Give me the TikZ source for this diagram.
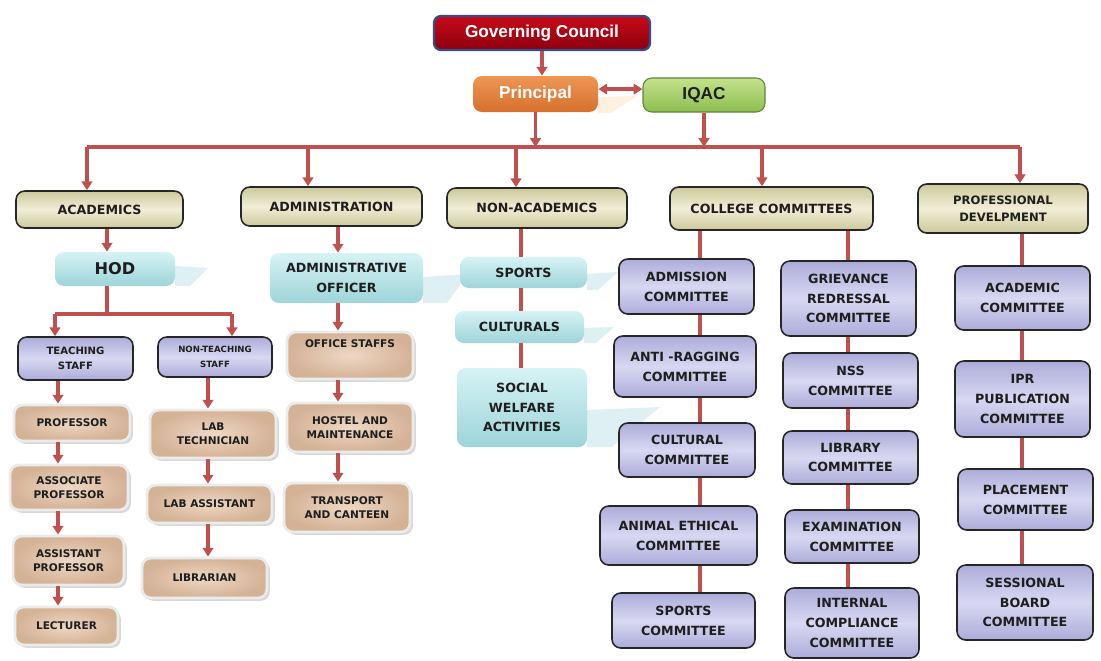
\documentclass[tikz,border=0pt]{standalone}
\usepackage{fontspec}
\setmainfont{DejaVu Sans}
\newfontfamily\libsans{Liberation Sans}
\usetikzlibrary{arrows.meta,shadows,calc}
\definecolor{ln}{RGB}{192,80,77}
\definecolor{khA}{RGB}{240,238,214}
\definecolor{khB}{RGB}{205,201,156}
\definecolor{lvA}{RGB}{216,216,242}
\definecolor{lvB}{RGB}{172,172,218}
\definecolor{tnA}{RGB}{238,216,196}
\definecolor{tnB}{RGB}{212,178,150}
\definecolor{cyA}{RGB}{214,243,245}
\definecolor{cyB}{RGB}{158,212,216}
\definecolor{refl}{RGB}{222,240,244}
\definecolor{gcA}{RGB}{200,10,25}
\definecolor{gcB}{RGB}{140,0,15}
\definecolor{gcE}{RGB}{55,75,135}
\definecolor{prA}{RGB}{238,150,85}
\definecolor{prB}{RGB}{214,112,45}
\definecolor{iqA}{RGB}{196,226,140}
\definecolor{iqB}{RGB}{140,190,80}
\definecolor{txt}{RGB}{30,30,30}
\begin{document}
\begin{tikzpicture}[x=0.02cm,y=-0.02cm,
  wh/.style 2 args={minimum width=#1*0.02cm, minimum height=#2*0.02cm},
  base/.style={rounded corners=5pt, align=center, inner sep=1pt, text=txt,
    font=\bfseries\fontsize{7.2}{11.3}\selectfont},
  khaki/.style={base, draw=black!85, line width=0.9pt, top color=khB, bottom color=khB, middle color=khA},
  lav/.style={base, draw=black!85, line width=0.9pt, top color=lvB, bottom color=lvB, middle color=lvA},
  tan/.style={base, draw=white!92!black, line width=1.6pt, inner color=tnA, outer color=tnB,
    drop shadow={shadow xshift=1.6pt, shadow yshift=-1.6pt, fill=black!30, opacity=0.5},
    font=\bfseries\fontsize{6}{8.1}\selectfont},
  cyanbox/.style={base, draw=none, top color=cyA, bottom color=cyB},
  small/.style={font=\bfseries\fontsize{5.75}{8.5}\selectfont},
  tiny/.style={font=\bfseries\fontsize{4.9}{8.5}\selectfont},
  lnk/.style={draw=ln, line width=1.9pt},
  tip/.tip={Triangle[length=5pt,width=6pt]},
  arr/.style={lnk, -tip},
  reflect/.style={fill=refl, draw=none}]
\useasboundingbox (0,0) rectangle (1101,660);

% reflections
\fill[orange!12] (598,97) -- (637,96) -- (611,113) -- (598,113) -- cycle;
\fill[reflect] (175,266) -- (208,268) -- (190,286) -- (175,286) -- cycle;
\fill[reflect] (423,277) -- (468,274) -- (447,303) -- (423,303) -- cycle;
\fill[reflect] (587,274) -- (618,272) -- (598,290) -- (587,290) -- cycle;
\fill[reflect] (584,328) -- (614,327) -- (596,343) -- (584,343) -- cycle;
\fill[reflect] (587,410) -- (660,407) -- (612,447) -- (587,447) -- cycle;

% top
\node[base, wh={216}{34}, rounded corners=4pt, draw=gcE, line width=1.3pt, top color=gcA, bottom color=gcB,
  text=white, font=\libsans\bfseries\fontsize{9.8}{12}\selectfont] (gc) at (542,33) {Governing Council};
\node[base, wh={125}{36}, draw=none, top color=prA, bottom color=prB, text=white,
  font=\libsans\bfseries\fontsize{9.8}{12}\selectfont] (pr) at (535.5,94) {Principal};
\node[base, wh={122}{34}, draw=iqB!70!black, line width=0.6pt, top color=iqA, bottom color=iqB, text=txt,
  font=\libsans\bfseries\fontsize{9.8}{12}\selectfont] (iq) at (704,95) {IQAC};

% level 2
\node[khaki, wh={167}{37}] (ac) at (99.5,209.5) {ACADEMICS};
\node[khaki, wh={181}{39}] (ad) at (331.5,206.5) {ADMINISTRATION};
\node[khaki, wh={180}{40}] (na) at (537,208) {NON-ACADEMICS};
\node[khaki, wh={203}{43}] (cc) at (771.5,208.5) {COLLEGE COMMITTEES};
\node[khaki, wh={170}{49}, font=\bfseries\fontsize{6.6}{10}\selectfont] (pd) at (1003,208.5) {PROFESSIONAL\\DEVELPMENT};

% academics
\node[cyanbox, wh={120}{34}, font=\bfseries\fontsize{9.2}{11}\selectfont] (hod) at (115,269) {HOD};
\node[lav, wh={115}{43}, small] (ts) at (75.5,358.5) {TEACHING\\STAFF};
\node[lav, wh={114}{40}, tiny] (nts) at (215,357) {NON-TEACHING\\STAFF};
\node[tan, wh={116}{36}] (prof) at (72,423) {PROFESSOR};
\node[tan, wh={118}{45}] (asso) at (69,487.5) {ASSOCIATE\\PROFESSOR};
\node[tan, wh={111}{49}] (asst) at (68.5,560.5) {ASSISTANT\\PROFESSOR};
\node[tan, wh={103}{38}] (lect) at (66.5,626) {LECTURER};
\node[tan, wh={126}{48}] (labt) at (213,434) {LAB\\TECHNICIAN};
\node[tan, wh={125}{38}] (laba) at (209.5,504) {LAB ASSISTANT};
\node[tan, wh={125}{40}] (lib) at (204.5,578) {LIBRARIAN};

% administration
\node[cyanbox, wh={153}{50}] (ao) at (346.5,278) {ADMINISTRATIVE\\OFFICER};
\node[tan, wh={126}{47}] (os) at (350,355.5) {OFFICE STAFFS\\[6pt]};
\node[tan, wh={126}{49}] (hm) at (350,427.5) {HOSTEL AND\\MAINTENANCE};
\node[tan, wh={126}{49}] (tc) at (347,507.5) {TRANSPORT\\AND CANTEEN};

% non-academics
\node[cyanbox, wh={127}{31}] (sp) at (523.5,272.5) {SPORTS};
\node[cyanbox, wh={129}{32}] (cu) at (519.5,327) {CULTURALS};
\node[cyanbox, wh={130}{79}] (sw) at (522,407.5) {SOCIAL\\WELFARE\\ACTIVITIES};

% college committees
\node[lav, wh={135}{55}] (adm) at (686.5,286.5) {ADMISSION\\COMMITTEE};
\node[lav, wh={142}{61}] (anti) at (685,366.5) {ANTI -RAGGING\\COMMITTEE};
\node[lav, wh={136}{54}] (cul) at (687,450) {CULTURAL\\COMMITTEE};
\node[lav, wh={157}{59}] (ani) at (678.5,535.5) {ANIMAL ETHICAL\\COMMITTEE};
\node[lav, wh={143}{55}] (spc) at (683.5,620.5) {SPORTS\\COMMITTEE};
\node[lav, wh={135}{75}] (gr) at (848.5,298.5) {GRIEVANCE\\REDRESSAL\\COMMITTEE};
\node[lav, wh={135}{55}] (nss) at (850.5,380.5) {NSS\\COMMITTEE};
\node[lav, wh={135}{53}] (lbc) at (850.5,457.5) {LIBRARY\\COMMITTEE};
\node[lav, wh={134}{53}] (ex) at (852,536.5) {EXAMINATION\\COMMITTEE};
\node[lav, wh={134}{70}] (ic) at (852,623) {INTERNAL\\COMPLIANCE\\COMMITTEE};

% professional
\node[lav, wh={135}{64}] (acc) at (1022.5,298) {ACADEMIC\\COMMITTEE};
\node[lav, wh={135}{76}] (ipr) at (1022.5,399) {IPR\\PUBLICATION\\COMMITTEE};
\node[lav, wh={135}{61}] (plc) at (1025.5,499.5) {PLACEMENT\\COMMITTEE};
\node[lav, wh={136}{75}] (ses) at (1025,602.5) {SESSIONAL\\BOARD\\COMMITTEE};

% column coordinates
\coordinate (bL) at (87,147);
\coordinate (bR) at (1020,147);
\coordinate (b2) at (308,147);
\coordinate (b3) at (516,147);
\coordinate (b4) at (762,147);
\coordinate (xH) at (107,0);
\coordinate (xT) at (55,314);
\coordinate (xN) at (232,314);
\coordinate (xP) at (58,0);
\coordinate (xL) at (208,0);
\coordinate (xA) at (338,0);
\coordinate (xS) at (521,0);
\coordinate (xC1) at (700,0);
\coordinate (xC2) at (848,0);
\coordinate (xD) at (1022,0);
\coordinate (pq) at ([yshift=2.8pt]pr.east);

% top connectors
\draw[arr] (gc.south) -- (gc.south |- pr.north);
\draw[lnk, tip-tip] (pq) -- (pq -| iq.west);
\draw[lnk] (bL) -- (bR);
\draw[arr] (pr.south) -- (pr.south |- bL);
\draw[arr] (iq.south) -- (iq.south |- bL);
\draw[arr] (bL) -- (bL |- ac.north);
\draw[arr] (b2) -- (b2 |- ad.north);
\draw[arr] (b3) -- (b3 |- na.north);
\draw[arr] (b4) -- (b4 |- cc.north);
\draw[arr] (bR) -- (bR |- pd.north);

% academics connectors
\draw[arr] (ac.south -| xH) -- (hod.north -| xH);
\draw[lnk] (hod.south -| xH) -- (xH |- xT);
\draw[lnk] (xT) -- (xN);
\draw[arr] (xT) -- (xT |- ts.north);
\draw[arr] (xN) -- (xN |- nts.north);
\draw[arr] (ts.south -| xP) -- (prof.north -| xP);
\draw[arr] (prof.south -| xP) -- (asso.north -| xP);
\draw[arr] (asso.south -| xP) -- (asst.north -| xP);
\draw[arr] (asst.south -| xP) -- (lect.north -| xP);
\draw[arr] (nts.south -| xL) -- (labt.north -| xL);
\draw[arr] (labt.south -| xL) -- (laba.north -| xL);
\draw[arr] (laba.south -| xL) -- (lib.north -| xL);

% administration connectors
\draw[arr] (ad.south -| xA) -- (ao.north -| xA);
\draw[arr] (ao.south -| xA) -- (os.north -| xA);
\draw[arr] (os.south -| xA) -- (hm.north -| xA);
\draw[arr] (hm.south -| xA) -- (tc.north -| xA);

% non-academics connectors
\draw[lnk] (na.south -| xS) -- (sp.north -| xS);
\draw[lnk] (sp.south -| xS) -- (cu.north -| xS);
\draw[lnk] (cu.south -| xS) -- (sw.north -| xS);

% committees connectors
\draw[lnk] (cc.south -| xC1) -- (adm.north -| xC1);
\draw[lnk] (adm.south -| xC1) -- (anti.north -| xC1);
\draw[lnk] (anti.south -| xC1) -- (cul.north -| xC1);
\draw[lnk] (cul.south -| xC1) -- (ani.north -| xC1);
\draw[lnk] (ani.south -| xC1) -- (spc.north -| xC1);
\draw[lnk] (cc.south -| xC2) -- (gr.north -| xC2);
\draw[lnk] (gr.south -| xC2) -- (nss.north -| xC2);
\draw[lnk] (nss.south -| xC2) -- (lbc.north -| xC2);
\draw[lnk] (lbc.south -| xC2) -- (ex.north -| xC2);
\draw[lnk] (ex.south -| xC2) -- (ic.north -| xC2);

% professional connectors
\draw[lnk] (pd.south -| xD) -- (acc.north -| xD);
\draw[lnk] (acc.south -| xD) -- (ipr.north -| xD);
\draw[lnk] (ipr.south -| xD) -- (plc.north -| xD);
\draw[lnk] (plc.south -| xD) -- (ses.north -| xD);
\end{tikzpicture}
\end{document}
